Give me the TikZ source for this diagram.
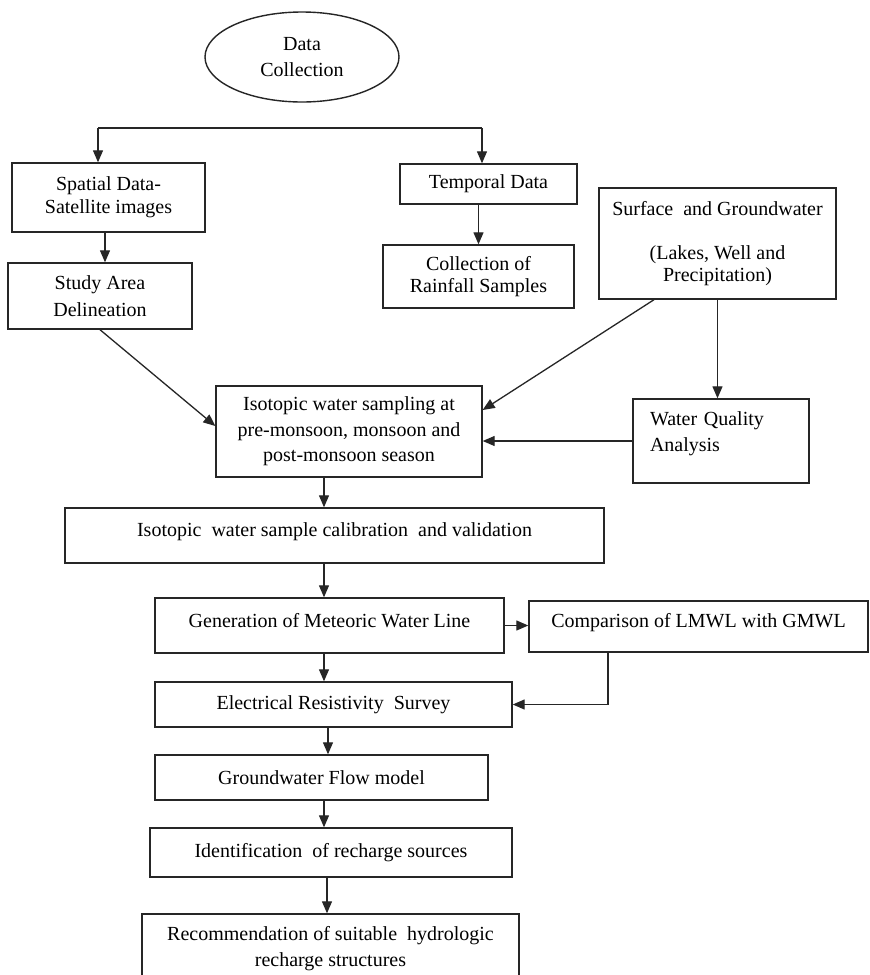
\documentclass[tikz,border=0pt]{standalone}
\usepackage{fontspec}
\setmainfont{Liberation Serif}
\usetikzlibrary{arrows.meta,calc,shapes.geometric}
\begin{document}
\begin{tikzpicture}[x=1pt,y=-1pt,
  box/.style={draw=black!85, line width=1.4pt, rectangle, inner sep=0pt, align=center, font=\fontsize{20}{24}\selectfont},
  arr/.style={draw=black!85, line width=1.3pt, -{Triangle[length=12pt,width=10pt]}},
  ln/.style={draw=black!85, line width=1.3pt}]
\useasboundingbox (0,0) rectangle (870,975);
\clip (0,0) rectangle (870,975);
\fill[white] (0,0) rectangle (870,975);

\node[box, ellipse, minimum width=194pt, minimum height=90pt, font=\fontsize{20}{26}\selectfont] (dc) at (302,57) {Data\\Collection};

\node[box, minimum width=193pt, minimum height=69pt, font=\fontsize{20}{23}\selectfont] (spatial) at (108.5,197.5) {Spatial Data-\\Satellite images};
\node[box, minimum width=184pt, minimum height=66pt, font=\fontsize{20}{27}\selectfont] (study) at (100,296) {Study Area\\Delineation};
\node[box, minimum width=177pt, minimum height=40pt] (temporal) at (488.5,184) {Temporal Data};
\node[box, minimum width=191pt, minimum height=63pt, font=\fontsize{20}{22}\selectfont] (rain) at (478.5,276.5) {Collection of\\Rainfall Samples};
\node[box, minimum width=237pt, minimum height=111pt, font=\fontsize{20}{22}\selectfont] (surface) at (717.5,243.5) {Surface\ \ and Groundwater\\[22pt](Lakes, Well and\\Precipitation)};

\node[box, minimum width=266pt, minimum height=91pt, font=\fontsize{20}{25.5}\selectfont] (iso) at (349,431.5) {Isotopic water sampling at\\pre-monsoon, monsoon and\\post-monsoon season};
\node[box, minimum width=176pt, minimum height=84pt, text width=142pt, align=left, font=\fontsize{20}{26}\selectfont] (wq) at (721,441) {Water Quality\\Analysis\\[-8pt]\mbox{}};

\node[box, minimum width=539pt, minimum height=55pt, text depth=12pt] (cal) at (334.5,535.5) {Isotopic\ \ water sample calibration\ \ and validation};
\node[box, minimum width=349pt, minimum height=55pt, text depth=10pt] (met) at (329.5,625.5) {Generation of Meteoric Water Line};
\node[box, minimum width=339pt, minimum height=51pt, text depth=13pt] (cmp) at (698.5,626.5) {Comparison of LMWL with GMWL};
\node[box, minimum width=357pt, minimum height=45pt] (ele) at (333.5,704.5) {Electrical Resistivity\ \ Survey};
\node[box, minimum width=333pt, minimum height=45pt] (flow) at (321.5,777.5) {Groundwater Flow model};
\node[box, minimum width=362pt, minimum height=49pt] (ident) at (331,852.5) {Identification\ \ of recharge sources};
\node[box, minimum width=377pt, minimum height=70pt, font=\fontsize{20}{26}\selectfont] (rec) at (330.5,949) {Recommendation of suitable\ \ hydrologic\\recharge structures};

\coordinate (busL) at (98,128);
\coordinate (busR) at (482,128);
\coordinate (c105) at (105,0);
\coordinate (c654) at (654,0);
\coordinate (c324) at (324,0);
\coordinate (c328) at (328,0);
\coordinate (c327) at (327,0);
\coordinate (c608) at (608,0);

\draw[ln] (busL) -- (busR);
\draw[arr] (busL) -- (busL |- spatial.north);
\draw[arr] (busR) -- (busR |- temporal.north);
\draw[arr] (c105 |- spatial.south) -- (c105 |- study.north);
\draw[arr] (rain.north |- temporal.south) -- (rain.north);
\draw[arr] (study.south) -- ([yshift=5.5pt]iso.west);
\draw[arr] (c654 |- surface.south) -- ([yshift=21.5pt]iso.east);
\draw[arr] (surface.south) -- (surface.south |- wq.north);
\draw[arr] (wq.west) -- (wq.west -| iso.east);
\draw[arr] (c324 |- iso.south) -- (c324 |- cal.north);
\draw[arr] (c324 |- cal.south) -- (c324 |- met.north);
\draw[arr] (met.east) -- (met.east -| cmp.west);
\draw[arr] (c324 |- met.south) -- (c324 |- ele.north);
\draw[arr] (c608 |- cmp.south) |- (ele.east);
\draw[arr] (c328 |- ele.south) -- (c328 |- flow.north);
\draw[arr] (c324 |- flow.south) -- (c324 |- ident.north);
\draw[arr] (c327 |- ident.south) -- (c327 |- rec.north);
\end{tikzpicture}
\end{document}
